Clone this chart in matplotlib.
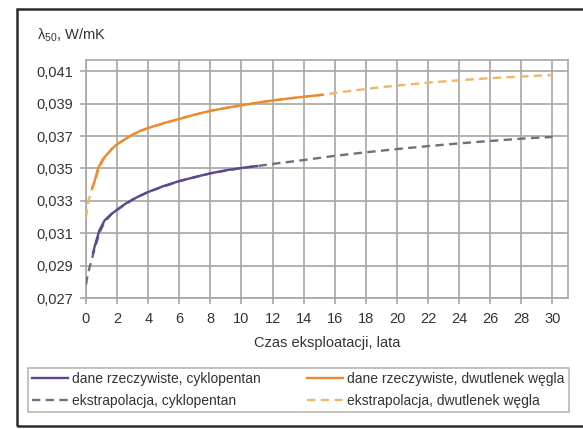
import matplotlib
matplotlib.use("Agg")
import matplotlib.pyplot as plt
from matplotlib.patches import Rectangle

plt.rcParams['font.family'] = ['Liberation Sans', 'DejaVu Sans']
plt.rcParams['mathtext.fontset'] = 'custom'
plt.rcParams['mathtext.rm'] = 'Liberation Sans'
plt.rcParams['mathtext.it'] = 'Liberation Sans'

# --- data ---
cp_real_x = [0.45, 0.65, 0.87, 1.2, 1.65, 2, 2.5, 3, 3.5, 4, 5, 6, 7, 8, 9, 10, 11]
cp_real_y = [0.0298, 0.0305, 0.0312, 0.0318, 0.0322, 0.03245, 0.0328, 0.03308,
             0.03333, 0.03355, 0.03392, 0.03422, 0.03447, 0.0347, 0.03489,
             0.03503, 0.03515]

cp_ext_x = [0, 0.1, 0.22, 0.32, 0.43, 0.55, 0.7, 0.9, 1.2, 1.65, 2, 3, 4, 6, 8, 10,
            11, 12, 13, 14, 16, 18, 20, 22, 24, 26, 28, 30]
cp_ext_y = [0.02783, 0.0284, 0.02885, 0.0292, 0.0296, 0.0300, 0.0305, 0.0311,
            0.0317, 0.0322, 0.03245, 0.03308, 0.03355, 0.03422, 0.0347, 0.03503,
            0.03515, 0.03528, 0.0354, 0.03552, 0.03578, 0.0360, 0.0362, 0.03638,
            0.03655, 0.0367, 0.03684, 0.03695]

co2_real_x = [0.4, 0.55, 0.77, 1.1, 1.65, 2, 2.5, 3, 3.5, 4, 5, 6, 7, 8, 9, 10,
              11, 12, 13, 14, 15.2]
co2_real_y = [0.0338, 0.0342, 0.0350, 0.0356, 0.0362, 0.0365, 0.0368, 0.03709,
              0.03733, 0.0375, 0.0378, 0.03806, 0.03833, 0.03856, 0.03874,
              0.0389, 0.03906, 0.0392, 0.03932, 0.03943, 0.03955]

co2_ext_x = [0, 0.08, 0.15, 0.25, 0.33, 0.45, 0.6, 0.8, 1.1, 1.65, 2, 3, 4, 6, 8,
             10, 12, 14, 15.2, 16, 17, 18, 19, 20, 22, 24, 26, 28, 30]
co2_ext_y = [0.03197, 0.0326, 0.0330, 0.0333, 0.0336, 0.0339, 0.0343, 0.0349,
             0.0355, 0.0362, 0.0365, 0.03709, 0.0375, 0.03806, 0.03856, 0.0389,
             0.0392, 0.03943, 0.03955, 0.03966, 0.03979, 0.03991, 0.04002,
             0.04012, 0.0403, 0.04045, 0.04058, 0.04068, 0.04077]

x_ticks = list(range(0, 31, 2))
y_ticks = [0.027, 0.029, 0.031, 0.033, 0.035, 0.037, 0.039, 0.041]
y_tick_labels = ["0,027", "0,029", "0,031", "0,033", "0,035", "0,037", "0,039", "0,041"]

labels = ["dane rzeczywiste, cyklopentan", "ekstrapolacja, cyklopentan",
          "dane rzeczywiste, dwutlenek węgla", "ekstrapolacja, dwutlenek węgla"]

# --- figure ---
W, H = 583, 429
fig = plt.figure(figsize=(W / 100, H / 100), dpi=100)
fig.patch.set_facecolor('white')

# outer frame
fig.patches.append(Rectangle((17 / W, 1 - 426 / H), (600 - 17) / W, (426 - 9) / H,
                             transform=fig.transFigure, fill=False,
                             edgecolor='#2a2a2a', linewidth=1.8, clip_on=False))

ax = fig.add_axes([86 / W, 1 - 298 / H, (568 - 86) / W, (298 - 60) / H])

grid_c = '#a8a6a4'
purple = '#5e4690'
gray = '#6c6f7e'
orange = '#ea8a2c'
lorange = '#f2b466'

dash = (0, (3.5, 2.3))
ax.plot(cp_ext_x, cp_ext_y, color=gray, lw=1.7, ls=dash, zorder=3)
ax.plot(co2_ext_x, co2_ext_y, color=lorange, lw=1.7, ls=dash, zorder=3)
ax.plot(cp_real_x, cp_real_y, color=purple, lw=1.7, zorder=4)
ax.plot(co2_real_x, co2_real_y, color=orange, lw=1.7, zorder=4)

ax.set_xlim(0, 31)
ax.set_ylim(0.027, 0.0417)
ax.set_xticks(x_ticks)
ax.set_xticklabels([str(t) for t in x_ticks])
ax.set_yticks(y_ticks)
ax.set_yticklabels(y_tick_labels)
ax.grid(True, color=grid_c, lw=1.2)
ax.set_axisbelow(True)
for s in ax.spines.values():
    s.set_color(grid_c)
    s.set_linewidth(1.2)
ax.tick_params(axis='both', colors=grid_c, length=4, width=1.2, labelsize=10.5,
               labelcolor='#333333')
ax.tick_params(axis='x', pad=6)
ax.tick_params(axis='y', pad=5)

ax.set_xlabel("Czas eksploatacji, lata", fontsize=10.5, color='#333333', labelpad=7)
fig.text(37 / W, 1 - 35 / H, r"λ$_{50}$, W/mK", fontsize=10.5, color='#333333',
         ha='left', va='center')

handles = [ax.lines[2], ax.lines[0], ax.lines[3], ax.lines[1]]
leg = fig.legend(handles, labels, ncol=2, mode='expand',
                 bbox_to_anchor=(28 / W, 1 - 412 / H, (569 - 28) / W, (412 - 363) / H),
                 loc='lower left', fontsize=10, frameon=True, fancybox=False,
                 edgecolor=grid_c, handlelength=2.6, handletextpad=0.3,
                 borderaxespad=0, borderpad=0.3, labelspacing=0.55,
                 labelcolor='#333333')
leg.get_frame().set_linewidth(1.2)

fig.savefig("out.png", dpi=100, facecolor='white')
